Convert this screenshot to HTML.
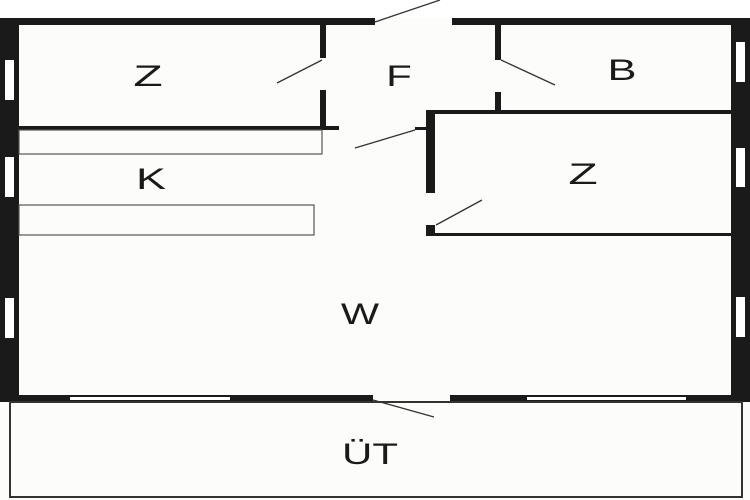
<!DOCTYPE html>
<html><head><style>
body{margin:0;background:#fff}
svg{display:block}
text{font-family:"Liberation Sans",sans-serif;font-size:30px;fill:#1a1a1a;text-anchor:middle}
</style></head><body>
<svg width="750" height="500" viewBox="0 0 750 500">
<rect x="0" y="18" width="750" height="482" fill="#fcfcfa"/>
<rect x="0" y="0" width="750" height="18" fill="#fff"/>
<rect x="0" y="18" width="375" height="7" fill="#1a1a1a"/>
<rect x="452" y="18" width="298" height="7" fill="#1a1a1a"/>
<rect x="0" y="18" width="19" height="384" fill="#1a1a1a"/>
<rect x="731" y="18" width="19" height="384" fill="#1a1a1a"/>
<g fill="#fff">
<rect x="5" y="60" width="9" height="40"/><rect x="5" y="157" width="9" height="40"/><rect x="5" y="298" width="9" height="40"/>
<rect x="736" y="42" width="9" height="40"/><rect x="736" y="148" width="9" height="39"/><rect x="736" y="297" width="9" height="40"/>
</g>
<rect x="19" y="395" width="354" height="7" fill="#1a1a1a"/>
<rect x="450" y="395" width="281" height="7" fill="#1a1a1a"/>
<rect x="70" y="397" width="160" height="3" fill="#fff"/>
<rect x="527" y="397" width="159" height="3" fill="#fff"/>
<rect x="10" y="402" width="732" height="95" fill="none" stroke="#333" stroke-width="2"/>
<rect x="19" y="126" width="320" height="4" fill="#1a1a1a"/>
<rect x="320" y="25" width="6" height="33" fill="#1a1a1a"/>
<rect x="320" y="90" width="6" height="38" fill="#1a1a1a"/>
<rect x="19" y="130" width="303" height="24" fill="none" stroke="#555" stroke-width="1.2"/>
<rect x="19" y="205" width="295" height="30" fill="none" stroke="#555" stroke-width="1.2"/>
<rect x="495" y="25" width="6" height="35" fill="#1a1a1a"/>
<rect x="495" y="92" width="6" height="20" fill="#1a1a1a"/>
<rect x="426" y="110" width="305" height="4" fill="#1a1a1a"/>
<rect x="426" y="110" width="9" height="83" fill="#1a1a1a"/>
<rect x="415" y="127" width="12" height="3" fill="#1a1a1a"/>
<rect x="426" y="225" width="9" height="11" fill="#1a1a1a"/>
<rect x="426" y="233" width="305" height="3" fill="#1a1a1a"/>
<g stroke="#333" stroke-width="1.3">
<line x1="375" y1="22" x2="440" y2="0"/>
<line x1="277" y1="83" x2="322" y2="60"/>
<line x1="355" y1="148" x2="415" y2="130"/>
<line x1="501" y1="60" x2="555" y2="85"/>
<line x1="436" y1="225" x2="482" y2="200"/>
<line x1="373" y1="400" x2="434" y2="417"/>
</g>
<text transform="translate(148,86) scale(1.6,1)">Z</text>
<text transform="translate(399,86) scale(1.4,1)">F</text>
<text transform="translate(622,80) scale(1.45,1)">B</text>
<text transform="translate(583,184) scale(1.6,1)">Z</text>
<text transform="translate(151,189) scale(1.5,1)">K</text>
<text transform="translate(360,324) scale(1.35,1)">W</text>
<text transform="translate(370,464) scale(1.4,1)">ÜT</text>
</svg>
</body></html>
